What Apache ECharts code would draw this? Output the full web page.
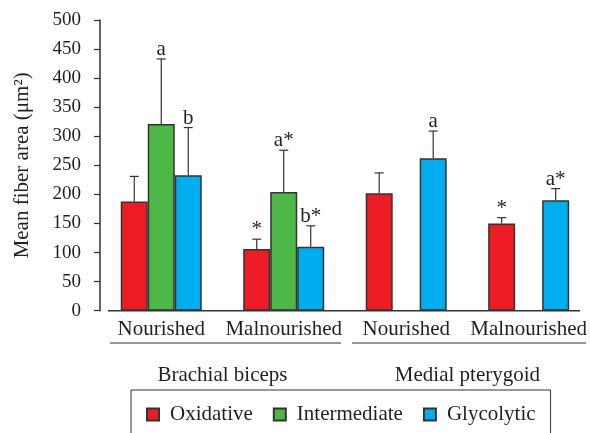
<!DOCTYPE html>
<html>
<head>
<meta charset="utf-8">
<script src="https://cdn.jsdelivr.net/npm/echarts@6/dist/echarts.min.js"></script>
<style>html,body{margin:0;padding:0;background:#fff;}#c{width:590px;height:433px;}</style>
</head>
<body>
<div id="c"></div>
<script>
var categories = ['Nourished', 'Malnourished', 'Nourished', 'Malnourished'];
var groups = ['Brachial biceps', 'Medial pterygoid'];
var seriesNames = ['Oxidative', 'Intermediate', 'Glycolytic'];
var oxidative = [188, 106, 202, 150];
var oxidativeSD = [43, 17, 35, 10];
var oxidativeMark = ['', '*', '', '*'];
var intermediate = [321, 204, null, null];
var intermediateSD = [112, 72, null, null];
var intermediateMark = ['a', 'a*', '', ''];
var glycolytic = [233, 110, 262, 190];
var glycolyticSD = [82, 36, 47, 20];
var glycolyticMark = ['b', 'b*', 'a', 'a*'];
var yTicks = [0, 50, 100, 150, 200, 250, 300, 350, 400, 450, 500];

var FONT = '"Liberation Serif", "DejaVu Serif", serif';
var TXT = '#231f20';
var colors = ['#ED1C24', '#4DB848', '#00AEEF'];
var BW = 27;

var values = [oxidative, intermediate, glycolytic];
var sds = [oxidativeSD, intermediateSD, glycolyticSD];
var marks = [oxidativeMark, intermediateMark, glycolyticMark];

var errData = [];
for (var s = 0; s < 3; s++) {
  for (var i = 0; i < categories.length; i++) {
    if (values[s][i] == null) continue;
    errData.push([i, values[s][i], values[s][i] + sds[s][i], s, marks[s][i]]);
  }
}

var chart = echarts.init(document.getElementById('c'), null, {renderer: 'canvas'});

var barSeries = seriesNames.map(function (n, s) {
  return {
    name: n, type: 'bar', data: values[s], barWidth: BW, barGap: '0%',
    itemStyle: {color: colors[s], borderColor: '#333', borderWidth: 1.5},
    z: 2
  };
});

var option = {
  animation: false,
  backgroundColor: '#fff',
  grid: {left: 100, right: 0, top: 20, bottom: 122.3, containLabel: false},
  xAxis: [{
    type: 'category', data: categories, position: 'bottom',
    axisLine: {show: false}, axisTick: {show: false},
    axisLabel: {interval: 0, fontFamily: FONT, fontSize: 21, color: TXT, margin: 8}
  }, {
    type: 'category', data: groups, position: 'bottom', offset: 46,
    axisLine: {show: false}, axisTick: {show: false},
    axisLabel: {interval: 0, fontFamily: FONT, fontSize: 21, color: TXT, margin: 8}
  }],
  yAxis: {
    type: 'value', min: yTicks[0], max: yTicks[yTicks.length - 1], interval: 50,
    name: 'Mean fiber area (\u03bcm\u00b2)', nameLocation: 'middle', nameGap: 67,
    nameTextStyle: {fontFamily: FONT, fontSize: 21, color: TXT},
    axisLine: {show: true, lineStyle: {color: '#333', width: 1.5}},
    axisTick: {show: true, length: 6, lineStyle: {color: '#333', width: 1.2}},
    splitLine: {show: false},
    axisLabel: {fontFamily: FONT, fontSize: 19, color: TXT, margin: 19}
  },
  legend: {
    data: seriesNames, left: 131, top: 390,
    padding: [14, 15, 20, 15], itemGap: 20, itemWidth: 12, itemHeight: 12,
    icon: 'rect', borderColor: '#333', borderWidth: 1,
    textStyle: {fontFamily: FONT, fontSize: 21, color: TXT, padding: [0, 0, 0, 6]}
  },
  series: barSeries.concat([{
    type: 'custom', name: 'err', z: 5, silent: true,
    data: errData,
    encode: {x: 0, y: 1},
    renderItem: function (params, api) {
      var cat = api.value(0);
      var s = api.value(3);
      var cx = api.coord([cat, 0])[0] + (s - 1) * BW;
      var yb = api.coord([cat, api.value(1)])[1];
      var yt = api.coord([cat, api.value(2)])[1];
      var lbl = errData[params.dataIndex][4];
      var st = {stroke: '#333', lineWidth: 1.2};
      var children = [
        {type: 'line', shape: {x1: cx, y1: yb, x2: cx, y2: yt}, style: st},
        {type: 'line', shape: {x1: cx - 4.5, y1: yt, x2: cx + 4.5, y2: yt}, style: st}
      ];
      if (lbl) {
        children.push({type: 'text', style: {text: lbl, x: cx, y: yt + 1, align: 'center', verticalAlign: 'bottom',
          font: '21px ' + FONT, fill: TXT}});
      }
      return {type: 'group', children: children};
    }
  }]),
  graphic: [
    {type: 'line', shape: {x1: 108, y1: 310.7, x2: 580, y2: 310.7}, style: {stroke: '#333', lineWidth: 1.5}, z: 10},
    {type: 'line', shape: {x1: 110, y1: 343, x2: 341, y2: 343}, style: {stroke: '#333', lineWidth: 1}},
    {type: 'line', shape: {x1: 352, y1: 343, x2: 586, y2: 343}, style: {stroke: '#333', lineWidth: 1}}
  ]
};
chart.setOption(option);
</script>
</body>
</html>
